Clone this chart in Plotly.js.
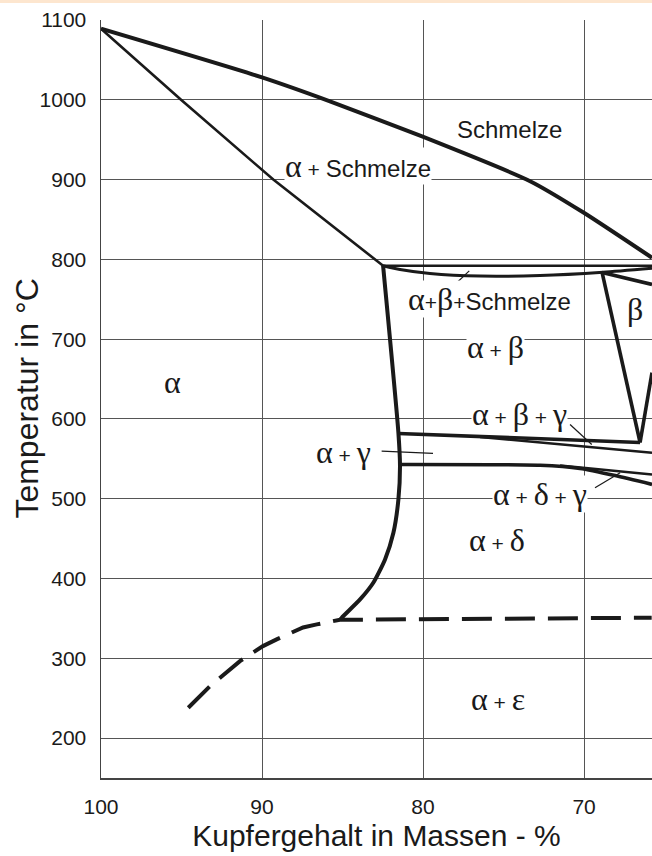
<!DOCTYPE html>
<html>
<head>
<meta charset="utf-8">
<script src="https://cdn.plot.ly/plotly-3.0.1.min.js"></script>
<style>
  html, body { margin: 0; padding: 0; background: #ffffff; }
  #band { position: absolute; left: 0; top: 0; width: 652px; height: 3px; background: #fde6cf; z-index: 5; }
  #chart { width: 652px; height: 856px; }
</style>
</head>
<body>
<div id="band"></div>
<div id="chart"></div>
<script>
// Cu-Sn phase diagram, copper-rich side (composition in mass-% Cu, temperature in °C)

// Liquidus
const liquidusCu = [100, 90, 85.78, 80.06, 73.35, 70.06, 65.78];
const liquidusT  = [1089, 1028, 998, 954, 898, 859, 802];

// Solidus of the alpha phase
const solidusCu = [100, 95.03, 89.3, 82.48];
const solidusT  = [1089, 1000, 900, 792];

// Peritectic horizontal
const peritecticCu = [82.48, 65.78];
const peritecticT  = [792, 792];

// Lower bound of alpha + beta + melt
const abMeltCu = [82.48, 81.43, 79.57, 76.46, 72.73, 68.82, 65.78];
const abMeltT  = [792, 787.3, 782.3, 779, 779.8, 784, 789];

// Beta field
const betaLeftCu  = [68.88, 66.52];
const betaLeftT   = [783.6, 570.5];
const betaTopCu   = [68.88, 65.78];
const betaTopT    = [783.6, 768.6];
const betaRightCu = [66.52, 65.78];
const betaRightT  = [570.5, 658];

// Alpha solvus
const alphaCu = [82.48, 81.53, 81.43, 81.53, 81.84, 82.36, 83.09, 83.91, 85.05, 85.16];
const alphaT  = [792, 582.7, 540.9, 499.1, 457.4, 424, 394.7, 373.8, 350.9, 348];

// Eutectoid at about 586 °C and its branch
const eut586Cu = [81.53, 66.52];
const eut586T  = [581.8, 570.5];
const abgLowCu = [76.46, 65.78];
const abgLowT  = [577.4, 557.6];

// Eutectoid at about 520 °C and its branches
const eut520Cu  = [81.43, 72.73, 70.25, 68.07, 65.78];
const eut520T   = [543, 542, 538, 529, 517.9];
const adgUpCu   = [71.49, 65.78];
const adgUpT    = [541.6, 530.4];

// Alpha / alpha + epsilon boundary (dashed)
const epsCu = [94.58, 93.23, 91.37, 89.94, 89.09, 87.45, 86.6, 85.16, 65.8];
const epsT  = [238.1, 265.2, 296.5, 315.3, 323.7, 338.7, 342.5, 348.3, 350.9];

// Leader lines from labels to narrow fields
const leader1Cu = [77.89, 77.13], leader1T = [771, 785.6];
const leader2Cu = [82.57, 79.38], leader2T = [559.6, 556.8];
const leader3Cu = [70.87, 69.52], leader3T = [593, 568];
const leader4Cu = [69.32, 67.76], leader4T = [513.8, 532.6];

// Axis ticks
const cuTicks = [100, 90, 80, 70];
const tTicks  = [200, 300, 400, 500, 600, 700, 800, 900, 1000, 1100];

const SANS = 'Liberation Sans, Arial, Helvetica, sans-serif';
const SERIF = 'Liberation Serif, Times New Roman, serif';
const pl = '<span style="font-family:Liberation Sans;font-size:21px">+</span>';
const plS = '<span style="font-family:Liberation Sans;font-size:21px"> + </span>';
const melt = '<span style="font-family:Liberation Sans;font-size:24px">Schmelze</span>';

// Field labels
const labelText = [
  melt,
  'α' + plS + melt,
  'α' + pl + 'β' + pl + melt,
  'β',
  'α' + plS + 'β',
  'α',
  'α' + plS + 'β' + plS + 'γ',
  'α' + plS + 'γ',
  'α' + plS + 'δ' + plS + 'γ',
  'α' + plS + 'δ',
  'α' + plS + 'ε'
];
const labelCu = [74.66, 84.04, 75.9, 66.83, 75.47, 95.53, 73.98, 84.95, 72.71, 75.4, 75.34];
const labelT  = [962.8, 917, 750, 737.2, 689.7, 645.7, 605.6, 558, 505.4, 447.7, 248.5];

function line(x, y, w, dash) {
  return {
    x: x, y: y, type: 'scatter', mode: 'lines',
    line: { color: '#1a1a1a', width: w, dash: dash || 'solid', shape: 'linear' },
    hoverinfo: 'skip', showlegend: false
  };
}
function curve(x, y, w) {
  const t = line(x, y, w);
  t.line.shape = 'spline';
  t.line.smoothing = 0.6;
  return t;
}

const traces = [
  curve(liquidusCu, liquidusT, 4),
  line(solidusCu, solidusT, 2.6),
  line(peritecticCu, peritecticT, 2.4),
  curve(abMeltCu, abMeltT, 3),
  line(betaLeftCu, betaLeftT, 3.6),
  line(betaTopCu, betaTopT, 3.6),
  line(betaRightCu, betaRightT, 3.6),
  curve(alphaCu, alphaT, 4),
  line(eut586Cu, eut586T, 3.6),
  line(abgLowCu, abgLowT, 2.6),
  curve(eut520Cu, eut520T, 3.6),
  line(adgUpCu, adgUpT, 2.4),
  line(epsCu, epsT, 4, '30px,13px'),
  line(leader1Cu, leader1T, 1.2),
  line(leader2Cu, leader2T, 1.2),
  line(leader3Cu, leader3T, 1.2),
  line(leader4Cu, leader4T, 1.2)
];

const annotations = labelText.map((t, i) => ({
  x: labelCu[i], y: labelT[i], xref: 'x', yref: 'y',
  text: t, showarrow: false,
  font: { family: SERIF, size: 32, color: '#1a1a1a' },
  bgcolor: '#ffffff', borderpad: 0,
  xanchor: 'center', yanchor: 'middle'
}));

// Vertical axis title, set as a rotated paper-anchored annotation
annotations.push({
  text: 'Temperatur in °C', xref: 'paper', yref: 'paper',
  x: -0.135, y: 0.5, xanchor: 'center', yanchor: 'middle',
  textangle: -90, showarrow: false,
  font: { family: SANS, size: 32, color: '#1a1a1a' }
});

const layout = {
  width: 652, height: 856,
  margin: { l: 101, r: 0, t: 20, b: 78 },
  paper_bgcolor: '#ffffff', plot_bgcolor: '#ffffff',
  showlegend: false,
  xaxis: {
    range: [100, 65.78], autorange: false,
    tickmode: 'array', tickvals: cuTicks, ticktext: cuTicks.map(String),
    showgrid: true, gridcolor: '#555555', gridwidth: 1,
    zeroline: false, showline: true, linecolor: '#444444', linewidth: 1.5,
    ticks: '', ticklabelstandoff: 9,
    tickfont: { family: SANS, size: 21, color: '#1a1a1a' },
    title: { text: 'Kupfergehalt in Massen - %', font: { family: SANS, size: 30, color: '#1a1a1a' }, standoff: 8 }
  },
  yaxis: {
    range: [150, 1100], autorange: false,
    tickmode: 'array', tickvals: tTicks, ticktext: tTicks.map(String),
    showgrid: true, gridcolor: '#555555', gridwidth: 1,
    zeroline: false, showline: true, linecolor: '#444444', linewidth: 1.5,
    ticks: '', ticklabelstandoff: 9,
    tickfont: { family: SANS, size: 21, color: '#1a1a1a' }
  },
  annotations: annotations
};

Plotly.newPlot('chart', traces, layout, { staticPlot: true, displayModeBar: false });
</script>
</body>
</html>
